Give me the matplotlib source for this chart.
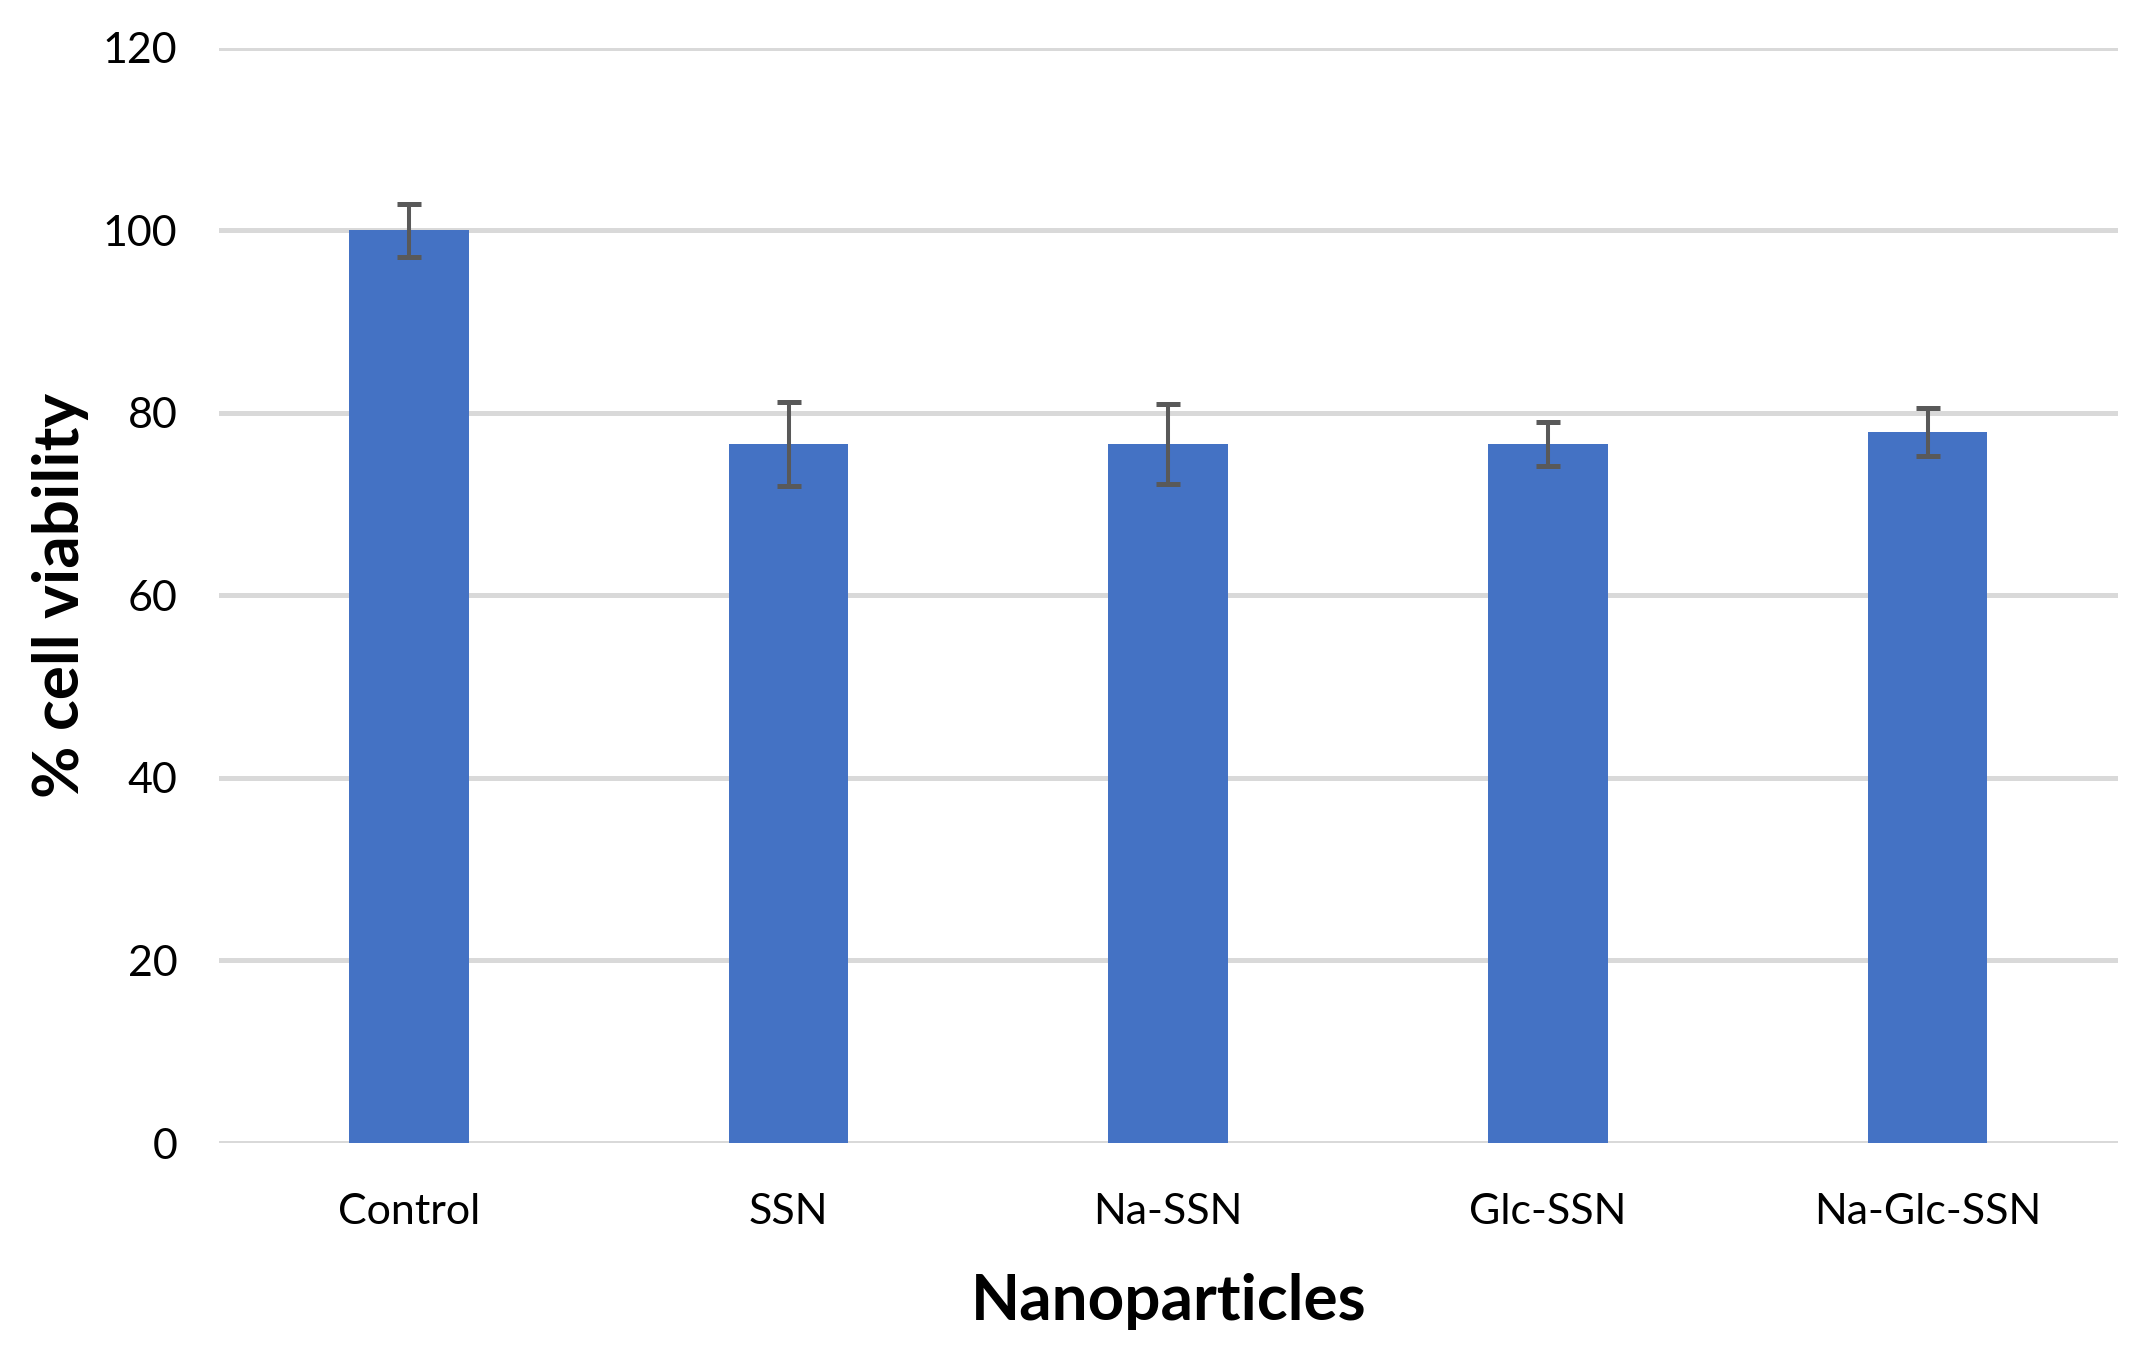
import numpy as np
import matplotlib.pyplot as plt

plt.rcParams["font.family"] = ["Lato", "DejaVu Sans"]

categories = ["Control", "SSN", "Na-SSN", "Glc-SSN", "Na-Glc-SSN"]
viability = [100.0, 76.6, 76.6, 76.6, 77.9]
errors = [2.9, 4.6, 4.4, 2.4, 2.6]
y_ticks = [0, 20, 40, 60, 80, 100, 120]

fig = plt.figure(figsize=(21.55, 13.64), dpi=100)
ax = fig.add_axes([0.1016, 0.162, 0.881, 0.803])

x = np.arange(len(categories))
ax.bar(x, viability, width=0.315, color="#4472C4", zorder=3)
ax.errorbar(x, viability, yerr=errors, fmt="none", ecolor="#595959",
            elinewidth=2.9, capsize=8.3, capthick=3.6, zorder=4)

ax.set_xlim(-0.5, 4.5)
ax.set_ylim(0, 120)
ax.set_yticks(y_ticks)
ax.set_xticks(x)
ax.set_xticklabels(categories)
ax.yaxis.grid(True, color="#D9D9D9", linewidth=3.6, zorder=0)
ax.set_axisbelow(True)
for s in ax.spines.values():
    s.set_visible(False)
ax.tick_params(axis="both", length=0, labelsize=31)
ax.tick_params(axis="x", pad=36)
ax.tick_params(axis="y", pad=30)

ax.set_xlabel("Nanoparticles", fontsize=46, fontweight="bold", labelpad=30)
ax.set_ylabel("% cell viability", fontsize=46, fontweight="bold", labelpad=10)

fig.savefig("out.png", dpi=100)
